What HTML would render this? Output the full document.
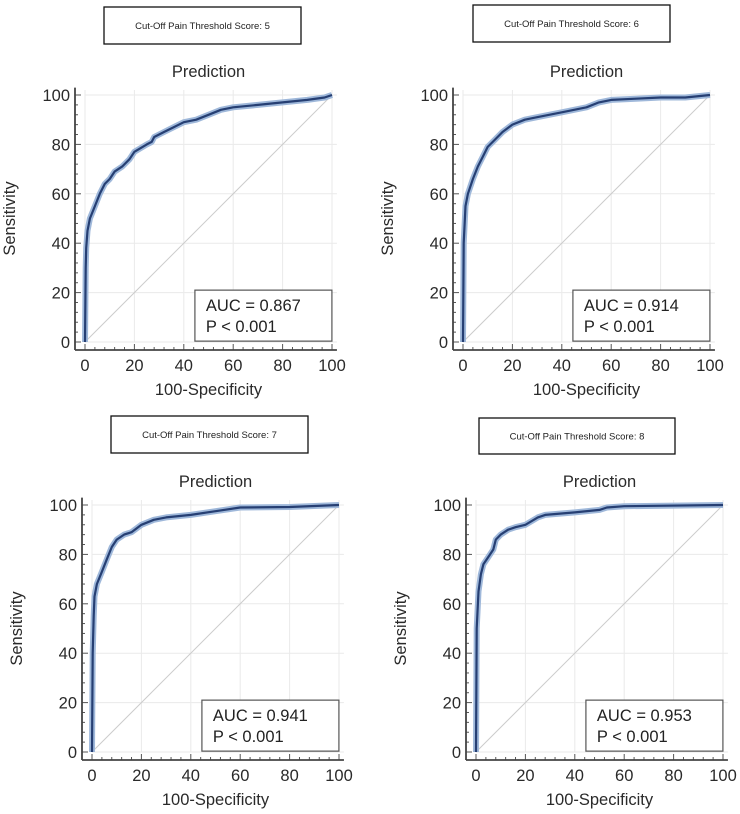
<!DOCTYPE html>
<html><head><meta charset="utf-8"><style>
body{margin:0;background:#fff;}
svg{display:block;font-family:"Liberation Sans",sans-serif;}
</style></head><body>
<svg id="root" width="740" height="814"></svg>
<script>
const ticks=[0,20,40,60,80,100];
const cutoffs=["5","6","7","8"];
const aucs=["0.867","0.914","0.941","0.953"];
const fpr1=[0,0.3,0.5,1,2,4,6,8,10,12,15,18,20,25,27,28,32,36,40,45,50,55,60,70,80,90,97,100];
const tpr1=[0,30,38,45,50,55,60,64,66,69,71,74,77,80,81,83,85,87,89,90,92,94,95,96,97,98,99,100];
const fpr2=[0,0.3,1,2,4,6,8,10,13,16,20,25,30,40,50,55,60,70,80,90,100];
const tpr2=[0,40,55,60,66,71,75,79,82,85,88,90,91,93,95,97,98,98.5,99,99,100];
const fpr3=[0,0.3,0.7,1,2,4,6,8,10,13,16,20,25,30,40,50,60,80,100];
const tpr3=[0,40,55,63,68,73,78,83,86,88,89,92,94,95,96,97.5,99,99.2,100];
const fpr4=[0,0.3,1,2,3,5,7,8,10,13,16,20,25,28,40,50,53,60,100];
const tpr4=[0,50,65,72,76,79,82,86,88,90,91,92,95,96,97,98,99,99.5,100];
const fprs=[fpr1,fpr2,fpr3,fpr4], tprs=[tpr1,tpr2,tpr3,tpr4];
const panels=[
 {x0:85,y0:342,box:[104,7,197,37]},
 {x0:463,y0:342,box:[473,5,197,37]},
 {x0:92,y0:752,box:[111,416,197,37]},
 {x0:476,y0:752,box:[479,418,196,36]}
];
const S=2.47;
const NS="http://www.w3.org/2000/svg";
const root=document.getElementById('root');
function mk(tag,attrs,parent,text){const e=document.createElementNS(NS,tag);for(const k in attrs)e.setAttribute(k,attrs[k]);if(text!==undefined)e.textContent=text;parent.appendChild(e);return e;}
panels.forEach((p,i)=>{
 const g=mk('g',{},root);
 
 
 const sx=v=>p.x0+v*S, sy=v=>p.y0-v*S;
 const b=p.box;
 const box=mk('rect',{x:b[0],y:b[1],width:b[2],height:b[3],fill:'#fff',stroke:'#111','stroke-width':1.3},g);
 
 
 const bt=mk('text',{x:b[0]+b[2]/2,y:b[1]+b[3]/2+3.5,'text-anchor':'middle','font-size':9.5,fill:'#222'},g,'Cut-Off Pain Threshold Score: '+cutoffs[i]);
 
 
 const tt=mk('text',{x:sx(50),y:sy(100)-18,'text-anchor':'middle','font-size':16.5,fill:'#2a2a2a'},g,'Prediction');
 
 
 ticks.forEach(t=>{
  mk('line',{x1:sx(t),x2:sx(t),y1:sy(0),y2:sy(102),stroke:'#eaeaea','stroke-width':1},g);
  mk('line',{y1:sy(t),y2:sy(t),x1:sx(0),x2:sx(102),stroke:'#eaeaea','stroke-width':1},g);
 });
 const ax=p.x0-10, ay=p.y0+8;
 for(let v=0;v<=100;v+=4){mk('line',{x1:sx(v),x2:sx(v),y1:ay,y2:ay-(v%20==0?6:3),stroke:'#555','stroke-width':1},g);}
 for(let v=0;v<=100;v+=4){mk('line',{y1:sy(v),y2:sy(v),x1:ax,x2:ax+(v%20==0?6:3),stroke:'#555','stroke-width':1},g);}
 const xa=mk('line',{x1:ax,x2:sx(102),y1:ay,y2:ay,stroke:'#444','stroke-width':1.8},g);
 
 
 const ya=mk('line',{x1:ax,x2:ax,y1:ay,y2:sy(103),stroke:'#444','stroke-width':1.8},g);
 
 
 ticks.forEach(t=>{
  const xl=mk('text',{x:sx(t),y:ay+21,'text-anchor':'middle','font-size':16.5,fill:'#2a2a2a'},g,String(t));
  
  
  const yl=mk('text',{x:ax-5,y:sy(t)+6,'text-anchor':'end','font-size':16.5,fill:'#2a2a2a'},g,String(t));
  
  
 });
 const xt=mk('text',{x:sx(50),y:ay+45,'text-anchor':'middle','font-size':16.5,fill:'#2a2a2a'},g,'100-Specificity');
 
 
 const ycx=ax-60, ycy=sy(50);
 const yt=mk('text',{x:ycx,y:ycy,'text-anchor':'middle','font-size':16.5,fill:'#2a2a2a',transform:`rotate(-90 ${ycx} ${ycy})`},g,'Sensitivity');
 
 
 const diag=mk('line',{x1:sx(0),y1:sy(0),x2:sx(100),y2:sy(100),stroke:'#ccc','stroke-width':1},g);
 
 
 const d=fprs[i].map((f,k)=>(k?'L':'M')+sx(f).toFixed(1)+' '+sy(tprs[i][k]).toFixed(1)).join(' ');
 const band=mk('path',{d:d,fill:'none',stroke:'#9fb8da','stroke-width':6,'stroke-linejoin':'round'},g);
 
 
 const line=mk('path',{d:d,fill:'none',stroke:'#263f73','stroke-width':2.2,'stroke-linejoin':'round'},g);
 
 
 const ab=mk('rect',{x:sx(44.5),y:sy(21),width:137,height:51,fill:'#fff',stroke:'#555','stroke-width':1.2},g);
 
 
 const a1=mk('text',{x:sx(44.5)+11,y:sy(21)+21,'font-size':16.5,fill:'#222'},g,'AUC = '+aucs[i]);
 
 
 const a2=mk('text',{x:sx(44.5)+11,y:sy(21)+42,'font-size':16.5,fill:'#222'},g,'P < 0.001');
 
 
});
</script>
</body></html>
